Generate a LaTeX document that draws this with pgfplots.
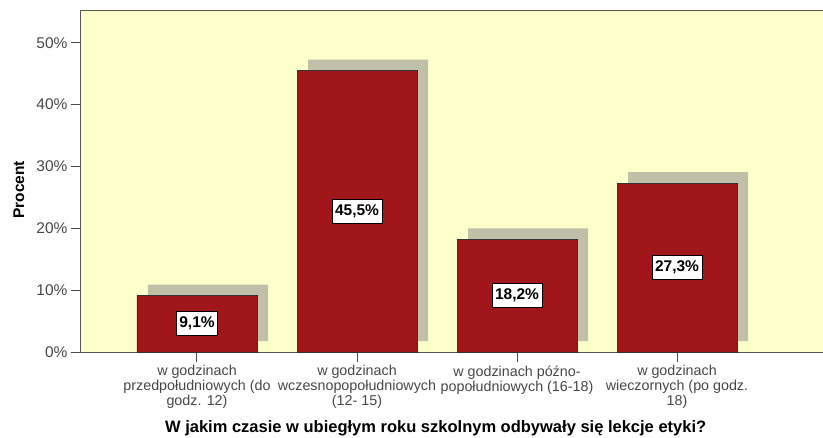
\documentclass[border=0pt]{standalone}
\usepackage{pgfplots}
\pgfplotsset{compat=1.18}
\usepackage{fontspec}
\setmainfont{Liberation Sans}
\definecolor{barred}{RGB}{160,22,26}
\definecolor{shadowgray}{RGB}{192,192,168}
\definecolor{bgyellow}{RGB}{255,255,204}
\definecolor{ticktext}{RGB}{70,70,70}

\begin{document}
\begin{tikzpicture}
\useasboundingbox (-81pt,-85pt) rectangle (742pt,352pt);
\begin{axis}[
    at={(0,0)}, anchor=south west,
    scale only axis,
    width=742pt, height=342pt,
    xmin=-0.725, xmax=3.9125,
    ymin=0, ymax=55.3,
    axis background/.style={fill=bgyellow},
    axis x line*=bottom, axis y line*=left,
    axis line style={draw=black!65, line width=1pt},
    tick align=outside,
    major tick length=10pt,
    tick style={draw=black!70, line width=1pt},
    xtick={0,1,2,3},
    xticklabels={
        {w godzinach\\przedpołudniowych (do\\godz. 12)},
        {w godzinach\\wczesnopopołudniowych\\(12- 15)},
        {w godzinach późno-\\popołudniowych (16-18)},
        {w godzinach\\wieczornych (po godz.\\18)}},
    xticklabel style={align=center, font=\fontsize{14.3}{15}\selectfont, text=ticktext},
    ytick={0,10,20,30,40,50},
    yticklabels={0\%,10\%,20\%,30\%,40\%,50\%},
    yticklabel style={font=\fontsize{15.5}{15}\selectfont, text=ticktext},
    xlabel={W jakim czasie w ubiegłym roku szkolnym odbywały się lekcje etyki?},
    xlabel style={font=\bfseries\fontsize{16.5}{18}\selectfont, at={(axis description cs:0.478,-0.222)}, anchor=center},
    ylabel={Procent},
    ylabel style={font=\bfseries\fontsize{15.5}{18}\selectfont, at={(axis description cs:-0.0836,0.474)}, anchor=center},
]
% shadow
\addplot[ybar, bar width=0.75, bar shift=0pt, fill=shadowgray, draw=none, xshift=11pt, yshift=11pt]
    coordinates {(0,9.1) (1,45.5) (2,18.2) (3,27.3)};
% bars
\addplot[ybar, bar width=0.75, bar shift=0pt, fill=barred, draw=black!80, line width=0.8pt]
    coordinates {(0,9.1) (1,45.5) (2,18.2) (3,27.3)};
% value labels in the middle of each bar
\addplot[draw=none, point meta=explicit symbolic, nodes near coords,
    nodes near coords style={anchor=center, font=\bfseries\fontsize{15.5}{15}\selectfont,
        fill=white, draw=black, line width=0.8pt, inner xsep=3pt, inner ysep=5pt,
        text height=11pt, text depth=3pt, text=black}]
    coordinates {(0,4.55) [9,1\%] (1,22.75) [45,5\%] (2,9.1) [18,2\%] (3,13.65) [27,3\%]};
\draw[black!65, line width=1pt] (rel axis cs:0,1) -- (rel axis cs:1,1);
\end{axis}
\end{tikzpicture}
\end{document}
